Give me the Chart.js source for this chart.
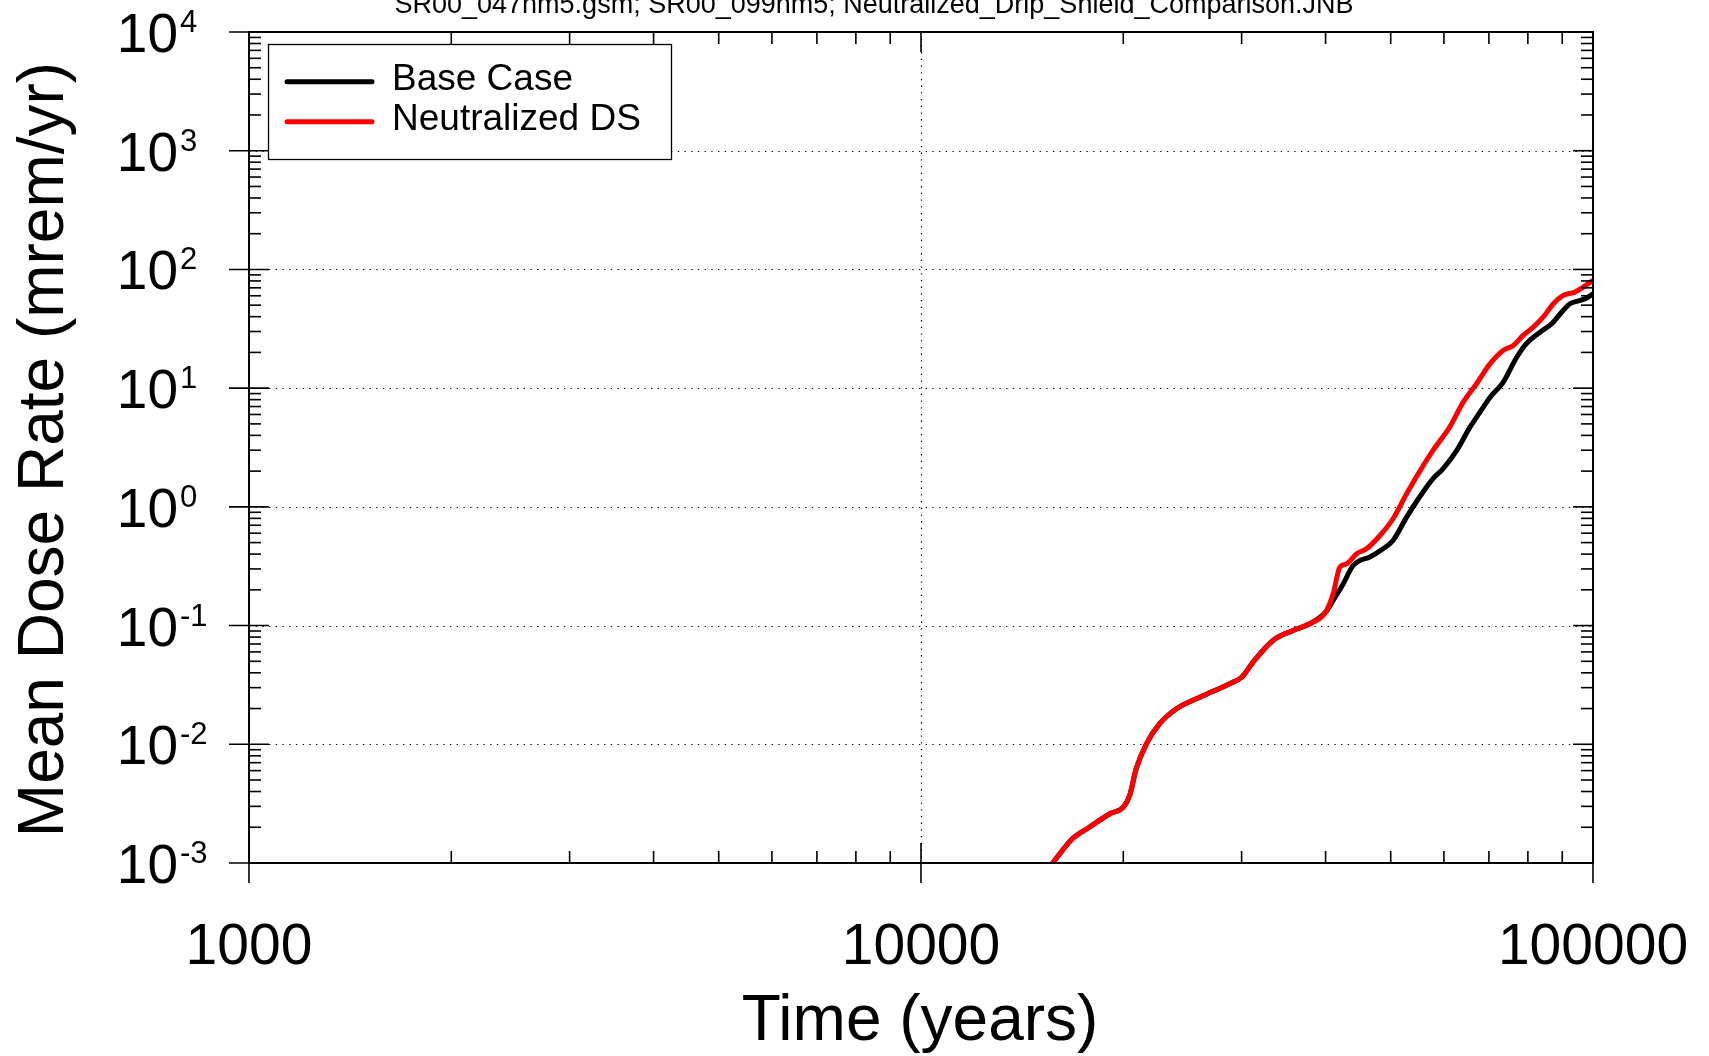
<!DOCTYPE html>
<html>
<head>
<meta charset="utf-8">
<title>Mean Dose Rate</title>
<script src="https://cdn.jsdelivr.net/npm/chart.js@4.4.1/dist/chart.umd.min.js"></script>
<style>
  html, body { margin: 0; padding: 0; background: #fff; }
  #wrap { width: 1709px; height: 1056px; position: relative; }
</style>
</head>
<body>
<div id="wrap"><canvas id="doseChart"></canvas></div>
<script>
const chartTitle = 'SR00_047nm5.gsm; SR00_099nm5; Neutralized_Drip_Shield_Comparison.JNB';
const xTitle = 'Time (years)';
const yTitle = 'Mean Dose Rate (mrem/yr)';
const xTickValues = [1000, 10000, 100000];
const yExponents = [-3, -2, -1, 0, 1, 2, 3, 4];

// Base Case (black) - hidden under the red curve until ~40000 yr
const baseTime = [15700, 16800, 17800, 19100, 20000, 20440, 20900, 21650, 22660, 24000,
  26000, 28800, 30000, 31200, 33400, 35800, 37900, 40000, 41050, 42500,
  43950, 45000, 46550, 48700, 50400, 52800, 55200, 57800, 59800, 62700,
  65600, 67900, 70300, 73500, 77000, 79600, 83400, 86800, 89800, 92400,
  95700, 97900, 100000];
const baseDose = [0.00100, 0.00160, 0.00200, 0.00260, 0.00295, 0.0037, 0.0062, 0.0101, 0.0149, 0.0199,
  0.0249, 0.0324, 0.0367, 0.0492, 0.0749, 0.091, 0.1035, 0.1297, 0.163, 0.225,
  0.321, 0.353, 0.378, 0.443, 0.521, 0.819, 1.21, 1.73, 2.09, 2.99,
  4.69, 6.28, 8.39, 11.2, 18.2, 23.7, 29.6, 34.9, 43.6, 51.4,
  54.8, 57.5, 62.4];

// Neutralized DS (red)
const neutTime = [15700, 16800, 17800, 19100, 20000, 20440, 20900, 21650, 22660, 24000,
  26000, 28800, 30000, 31200, 33400, 35800, 37900, 40000, 41050, 42000,
  43000, 44500, 46000, 48200, 50400, 52800, 55900, 57800, 61200, 64100,
  67100, 70300, 73500, 76100, 78700, 81500, 84300, 87300, 90300, 94000,
  96700, 100000];
const neutDose = [0.00100, 0.00160, 0.00200, 0.00260, 0.00295, 0.0037, 0.0062, 0.0101, 0.0149, 0.0199,
  0.0249, 0.0324, 0.0367, 0.0492, 0.0749, 0.091, 0.1035, 0.1297, 0.185, 0.310,
  0.331, 0.403, 0.443, 0.574, 0.794, 1.29, 2.23, 2.99, 4.69, 7.62,
  10.9, 16.1, 20.8, 22.9, 27.8, 32.7, 39.6, 51.4, 60.4, 64.4,
  71, 80.8];

const FONT = '"Liberation Sans", Arial, sans-serif';

function toPoints(xs, ys) {
  return xs.map((x, i) => ({ x: x, y: ys[i] }));
}

function minorValues(minExp, maxExp) {
  const out = [];
  for (let e = minExp; e < maxExp; e++) {
    for (let k = 2; k <= 9; k++) out.push(k * Math.pow(10, e));
  }
  return out;
}

const framePlugin = {
  id: 'frame',
  beforeDatasetsDraw(chart) {
    const ctx = chart.ctx;
    const { left, right, top, bottom } = chart.chartArea;
    const xs = chart.scales.x, ys = chart.scales.y;
    ctx.save();
    ctx.strokeStyle = '#000';
    ctx.lineWidth = 1.2;
    ctx.setLineDash([1.3, 5.4]);
    yExponents.slice(1, -1).forEach(e => {
      const py = Math.round(ys.getPixelForValue(Math.pow(10, e))) + 0.5;
      ctx.beginPath(); ctx.moveTo(left, py); ctx.lineTo(right, py); ctx.stroke();
    });
    xTickValues.slice(1, -1).forEach(v => {
      const px = Math.round(xs.getPixelForValue(v)) + 0.5;
      ctx.beginPath(); ctx.moveTo(px, top); ctx.lineTo(px, bottom); ctx.stroke();
    });
    ctx.restore();
  },
  afterDatasetsDraw(chart) {
    const ctx = chart.ctx;
    const { left, right, top, bottom } = chart.chartArea;
    const xs = chart.scales.x, ys = chart.scales.y;
    ctx.save();
    ctx.strokeStyle = '#000';

    // ticks
    ctx.lineWidth = 1.6;
    const line = (x1, y1, x2, y2) => { ctx.beginPath(); ctx.moveTo(x1, y1); ctx.lineTo(x2, y2); ctx.stroke(); };
    minorValues(3, 5).forEach(v => {
      const px = xs.getPixelForValue(v);
      line(px, bottom, px, bottom - 12);
      line(px, top, px, top + 12);
    });
    xTickValues.forEach(v => {
      const px = xs.getPixelForValue(v);
      line(px, bottom + 20, px, bottom - 20);
      line(px, top, px, top + 20);
    });
    minorValues(-3, 4).forEach(v => {
      const py = ys.getPixelForValue(v);
      line(left, py, left + 12, py);
      line(right, py, right - 12, py);
    });
    yExponents.forEach(e => {
      const py = ys.getPixelForValue(Math.pow(10, e));
      line(left - 20, py, left + 20, py);
      line(right, py, right - 20, py);
    });

    // frame
    ctx.lineWidth = 2;
    ctx.strokeRect(left, top, right - left, bottom - top);

    // tick labels
    ctx.fillStyle = '#000';
    ctx.textBaseline = 'alphabetic';
    ctx.font = '57px ' + FONT;
    ctx.textAlign = 'center';
    xTickValues.forEach(v => {
      ctx.fillText(String(v), xs.getPixelForValue(v), bottom + 101);
    });
    yExponents.forEach(e => {
      const py = ys.getPixelForValue(Math.pow(10, e));
      ctx.font = '55px ' + FONT;
      ctx.textAlign = 'right';
      ctx.fillText('10', left - 71, py + 20);
      ctx.font = '31px ' + FONT;
      ctx.textAlign = 'left';
      ctx.fillText(String(e), left - 69, py);
    });

    // axis titles
    ctx.font = '64px ' + FONT;
    ctx.textAlign = 'center';
    ctx.fillText(xTitle, (left + right) / 2 - 1, 1040);
    ctx.save();
    ctx.translate(63, (top + bottom) / 2 + 2);
    ctx.rotate(-Math.PI / 2);
    ctx.font = '64px ' + FONT;
    ctx.fillText(yTitle, 0, 0);
    ctx.restore();

    // chart title (cut off at top edge)
    ctx.font = '27px ' + FONT;
    ctx.fillText(chartTitle, 874, 12.5);

    // legend
    ctx.fillStyle = '#fff';
    ctx.fillRect(268, 44, 404, 116);
    ctx.lineWidth = 1.3;
    ctx.strokeRect(268.5, 44.5, 403, 115);
    const entries = [chart.data.datasets[0], chart.data.datasets[1]];
    entries.forEach((ds, i) => {
      const ly = 81.7 + i * 40;
      ctx.strokeStyle = ds.borderColor;
      ctx.lineWidth = 5;
      ctx.lineCap = 'round';
      line(287, ly, 372, ly);
      ctx.fillStyle = '#000';
      ctx.font = '37px ' + FONT;
      ctx.textAlign = 'left';
      ctx.fillText(ds.label, 392, 90 + i * 40);
    });
    ctx.restore();
  }
};

const ctx = document.getElementById('doseChart').getContext('2d');
new Chart(ctx, {
  type: 'line',
  data: {
    datasets: [
      {
        label: 'Base Case',
        data: toPoints(baseTime, baseDose),
        borderColor: '#000000',
        borderWidth: 5,
        pointRadius: 0,
        cubicInterpolationMode: 'monotone',
        borderJoinStyle: 'round',
        borderCapStyle: 'round',
        fill: false,
        order: 2
      },
      {
        label: 'Neutralized DS',
        data: toPoints(neutTime, neutDose),
        borderColor: '#ff0000',
        borderWidth: 5,
        pointRadius: 0,
        cubicInterpolationMode: 'monotone',
        borderJoinStyle: 'round',
        borderCapStyle: 'round',
        fill: false,
        order: 1
      }
    ]
  },
  options: {
    responsive: true,
    maintainAspectRatio: false,
    animation: false,
    layout: { padding: { left: 249, top: 32, right: 116, bottom: 193 } },
    plugins: {
      legend: { display: false },
      tooltip: { enabled: false },
      title: { display: false }
    },
    scales: {
      x: { type: 'logarithmic', min: 1000, max: 100000, display: false },
      y: { type: 'logarithmic', min: 0.001, max: 10000, display: false }
    }
  },
  plugins: [framePlugin]
});
</script>
</body>
</html>
